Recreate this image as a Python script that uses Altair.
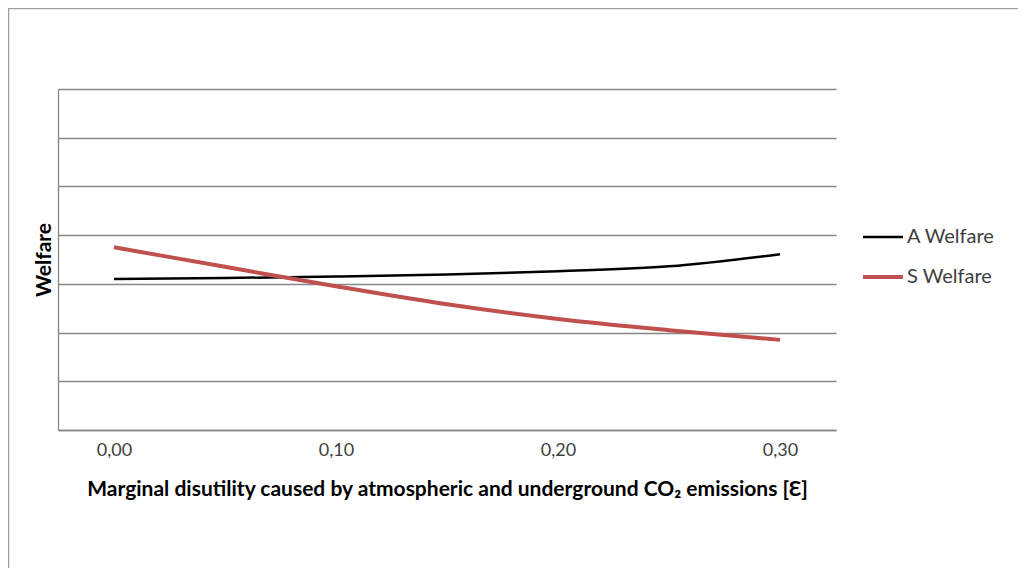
import altair as alt
import pandas as pd

# data (y in arbitrary welfare units, gridline = 1 unit)
x_values = [0.00, 0.05, 0.10, 0.15, 0.20, 0.25, 0.30]
a_welfare = [3.10, 3.12, 3.15, 3.19, 3.26, 3.36, 3.61]
s_welfare = [3.75, 3.35, 2.95, 2.58, 2.28, 2.05, 1.85]
series_names = ["A Welfare", "S Welfare"]
x_ticks = [0.0, 0.1, 0.2, 0.3]
y_grid = [0, 1, 2, 3, 4, 5, 6, 7]

rows = []
for name, vals in zip(series_names, [a_welfare, s_welfare]):
    for xv, yv in zip(x_values, vals):
        rows.append({"x": xv, "y": yv, "series": name})
df = pd.DataFrame(rows)

FONT = "Lato"
GRID = "#878787"

legend_cfg = dict(
    title=None,
    orient="none",
    legendX=803,
    legendY=138,
    symbolType="stroke",
    symbolSize=1600,
    labelFont=FONT,
    labelFontSize=20,
    labelColor="#404040",
    labelOffset=2,
    clipHeight=20,
    rowPadding=20,
)

lines = alt.Chart(df).mark_line(interpolate="monotone", clip=False).encode(
    x=alt.X(
        "x:Q",
        scale=alt.Scale(domain=[-0.0252, 0.3252], nice=False, zero=False),
        axis=alt.Axis(
            values=x_ticks,
            labelExpr="replace(format(datum.value, '.2f'), '.', ',')",
            grid=False,
            ticks=False,
            domainColor=GRID,
            domainWidth=1.3,
            labelFont=FONT,
            labelFontSize=18,
            labelColor="#404040",
            labelPadding=11,
            title="Marginal disutility caused by atmospheric and underground CO₂ emissions [Ɛ]",
            titleFont=FONT,
            titleFontSize=21,
            titleFontWeight="bold",
            titleColor="#000000",
            titleY=48,
            titleBaseline="top",
        ),
    ),
    y=alt.Y(
        "y:Q",
        scale=alt.Scale(domain=[0, 7], nice=False),
        axis=alt.Axis(
            values=y_grid,
            labels=False,
            ticks=False,
            grid=True,
            gridColor=GRID,
            gridWidth=1.3,
            domainColor=GRID,
            domainWidth=1.3,
            title="Welfare",
            titleFont=FONT,
            titleFontSize=21,
            titleFontWeight="bold",
            titleColor="#000000",
            titleAngle=270,
            titleX=-14,
            titleBaseline="middle",
        ),
    ),
    color=alt.Color(
        "series:N",
        scale=alt.Scale(domain=series_names, range=["#000000", "#C0504D"]),
        legend=alt.Legend(**legend_cfg),
    ),
    strokeWidth=alt.StrokeWidth(
        "series:N",
        scale=alt.Scale(domain=series_names, range=[2.5, 4]),
        legend=alt.Legend(**legend_cfg),
    ),
)

frame = alt.Chart(pd.DataFrame({"k": [0]})).mark_rect(
    fill=None, stroke="#A0A0A0", strokeWidth=1.5, clip=False
).encode(
    x=alt.value(-49.5), x2=alt.value(1000), y=alt.value(-80.5), y2=alt.value(700)
)

chart = alt.layer(frame, lines).properties(
    width=778,
    height=341,
    padding={"left": 50, "top": 81, "right": 182, "bottom": 138},
    autosize=alt.AutoSizeParams(type="none"),
    background="white",
).configure_view(stroke=None)

chart.save("out.html", embed_options={"renderer": "svg", "actions": False})
